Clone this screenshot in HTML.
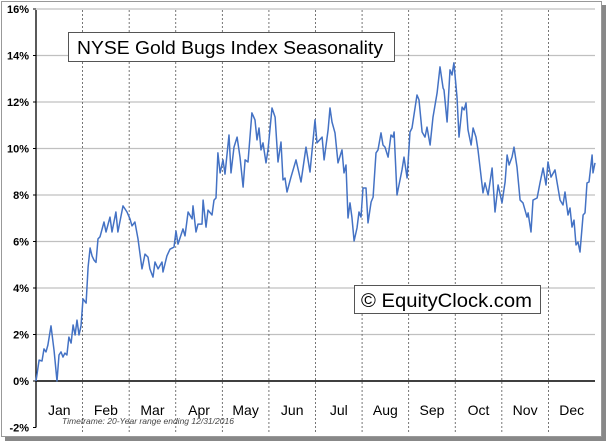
<!DOCTYPE html>
<html><head><meta charset="utf-8"><style>
body{margin:0;background:#fff;}
svg{display:block;font-family:"Liberation Sans",sans-serif;}
</style></head><body>
<svg id="chart" width="609" height="443" viewBox="0 0 609 443">
<rect x="5" y="5" width="601" height="436" fill="#888"/>
<rect x="1.5" y="1.5" width="600" height="435" fill="#fff" stroke="#999"/>
<g id="grid"></g>
<g id="axes"></g>
<path id="line" fill="none" stroke="#4472c4" stroke-width="1.5" stroke-linejoin="round"/>
<g>
<rect x="68.5" y="32.5" width="326" height="29" fill="#fff" stroke="#555"/>
<text x="77" y="54" font-size="18" textLength="306" lengthAdjust="spacingAndGlyphs" fill="#000">NYSE Gold Bugs Index Seasonality</text>
</g>
<g>
<rect x="354.5" y="285.5" width="186" height="28" fill="#fff" stroke="#555"/>
<text x="361" y="307" font-size="19" textLength="171" lengthAdjust="spacingAndGlyphs" fill="#000">© EquityClock.com</text>
</g>
<text x="62" y="424" font-size="8.5" font-style="italic" fill="#444">Timeframe: 20-Year range ending 12/31/2016</text>
</svg>
<script>
const months=["Jan","Feb","Mar","Apr","May","Jun","Jul","Aug","Sep","Oct","Nov","Dec"];
const yTicks=[-2,0,2,4,6,8,10,12,14,16];
const days=[0,2.0,3.9,5.2,6.5,7.8,9.8,11.8,13.7,15.0,16.3,17.6,18.9,20.2,21.5,22.9,24.2,25.5,26.8,28.1,29.4,30.7,32.7,34.0,35.3,36.6,37.9,39.2,40.5,41.8,44.4,45.7,48.3,49.6,52.2,53.5,56.8,59.4,61.4,62.7,64.6,66.6,69.2,71.2,73.1,74.4,76.4,77.7,79.7,82.3,82.9,85.5,87.5,90.1,91.4,92.7,96.0,97.3,99.3,101.9,102.5,104.5,105.8,108.4,109.1,111.0,112.3,114.9,116.2,117.5,118.8,120.2,122.1,123.4,126.0,127.3,129.3,131.3,133.2,135.2,136.5,138.4,141.0,143.0,144.3,145.6,146.9,148.2,150.2,151.5,154.1,156.1,158.0,160.0,161.3,162.6,163.9,166.5,169.8,173.0,176.3,178.9,182.2,183.5,186.8,188.1,190.7,192.0,193.3,195.2,197.2,199.8,201.1,202.4,203.7,205.0,206.3,207.7,209.6,210.9,212.2,213.5,215.5,216.8,218.8,220.1,222.0,223.3,225.3,226.6,227.9,229.9,231.8,233.1,233.8,235.7,239.0,240.3,242.3,244.2,245.5,248.8,250.1,252.1,254.0,255.3,257.3,259.2,261.9,263.8,265.8,266.4,268.4,270.3,271.6,272.9,274.9,276.2,278.2,279.5,280.8,282.1,284.1,285.4,287.3,288.6,291.9,293.2,295.2,297.8,299.7,301.7,304.3,306.3,307.6,308.9,310.8,312.1,314.1,316.1,318.0,320.6,321.3,323.2,324.5,327.2,329.1,331.1,333.0,334.3,336.3,338.9,340.2,342.2,344.1,345.4,347.4,348.7,350.0,351.3,352.6,353.9,355.2,357.2,358.5,359.8,361.1,363.1,363.7,365.0];
const values=[0,0.90,0.86,1.38,1.25,1.55,2.37,1.3,0,1.12,1.25,1.03,1.20,1.12,1.89,1.63,2.41,1.98,2.62,1.98,2.37,3.53,3.35,4.9,5.72,5.37,5.20,5.1,6.11,6.2,6.84,6.41,7.05,6.41,7.27,6.41,7.53,7.27,6.97,6.67,6.84,6.11,4.82,5.46,5.33,4.82,4.47,5.12,4.82,5.12,4.69,5.38,5.67,5.76,6.45,5.89,6.54,6.24,7.27,6.97,7.53,6.41,6.75,6.75,7.78,6.62,7.35,7.14,7.78,7.87,9.81,8.95,9.51,8.90,10.58,8.95,10.06,10.49,9.63,8.34,9.51,9.42,11.53,11.23,10.37,10.88,9.94,10.24,9.38,9.94,11.74,11.35,9.42,10.28,8.65,8.73,8.13,8.77,9.51,8.56,10.06,8.99,11.23,10.24,10.49,9.51,10.80,11.74,11.14,10.67,9.38,9.94,8.95,9.29,7.01,7.66,7.05,6.02,6.58,7.27,7.05,8.30,8.30,6.80,7.70,7.91,9.81,9.94,10.67,10.15,10.06,9.63,10.58,10.49,10.71,8.00,9.08,9.63,8.73,10.71,10.88,12.30,12.09,10.71,10.49,10.92,10.15,11.35,12.39,13.51,12.60,12.52,11.14,13.38,13.16,13.68,12.22,10.49,11.78,11.66,11.96,10.80,10.15,10.88,10.49,9.94,8.09,8.52,8.00,9.16,7.27,8.43,7.66,8.56,9.72,9.29,9.63,10.06,9.20,7.78,7.66,7.05,7.23,6.41,7.78,7.87,8.52,9.16,8.43,9.42,8.77,9.08,8.56,7.78,7.57,8.13,7.14,7.44,6.62,6.92,5.85,5.98,5.55,7.14,7.23,8.52,8.56,9.72,8.95,9.38];
const X0=36,X1=595,Y0=381,PPU=23.25;
const xs=d=>X0+d/365*(X1-X0);
const ys=v=>Y0-v*PPU;
const NS="http://www.w3.org/2000/svg";
function mk(tag,attrs,parent){const e=document.createElementNS(NS,tag);for(const k in attrs)e.setAttribute(k,attrs[k]);parent.appendChild(e);return e;}
const grid=document.getElementById('grid'),axes=document.getElementById('axes');
yTicks.forEach(t=>{
  const y=ys(t);
  if(t!==0&&t!==-2){const l=mk('line',{x1:X0,x2:X1,y1:y,y2:y,stroke:'#c0c0c0','stroke-width':1.2},grid);
  
  }
  const tk=mk('line',{x1:X0-3,x2:X0,y1:y,y2:y,stroke:'#000'},axes);
  
  
  const tx=mk('text',{x:29,y:y+4,'text-anchor':'end','font-size':11,'font-weight':'bold',fill:'#000'},axes);
  tx.textContent=t+'%';
  
  
});
const mw=(X1-X0)/12;
months.forEach((m,i)=>{
  const x=X0+mw*(i+1);
  if(i<11){const g=mk('line',{x1:x,x2:x,y1:10,y2:432,stroke:'#555','stroke-dasharray':'2,2','stroke-width':0.8},grid);
  
  }
  const tx=mk('text',{x:X0+mw*(i+0.5),y:415,'text-anchor':'middle','font-size':14,fill:'#000'},axes);
  tx.textContent=m;
  
  
});
const ya=mk('line',{x1:X0,x2:X0,y1:10,y2:ys(-2),stroke:'#000','stroke-width':1.3},axes);


const xa=mk('line',{x1:X0,x2:X1,y1:Y0,y2:Y0,stroke:'#000','stroke-width':1.5},axes);


let d='';
days.forEach((dv,i)=>{d+=(i?'L':'M')+xs(dv).toFixed(1)+','+ys(values[i]).toFixed(1);});
document.getElementById('line').setAttribute('d',d);
</script>
</body></html>
